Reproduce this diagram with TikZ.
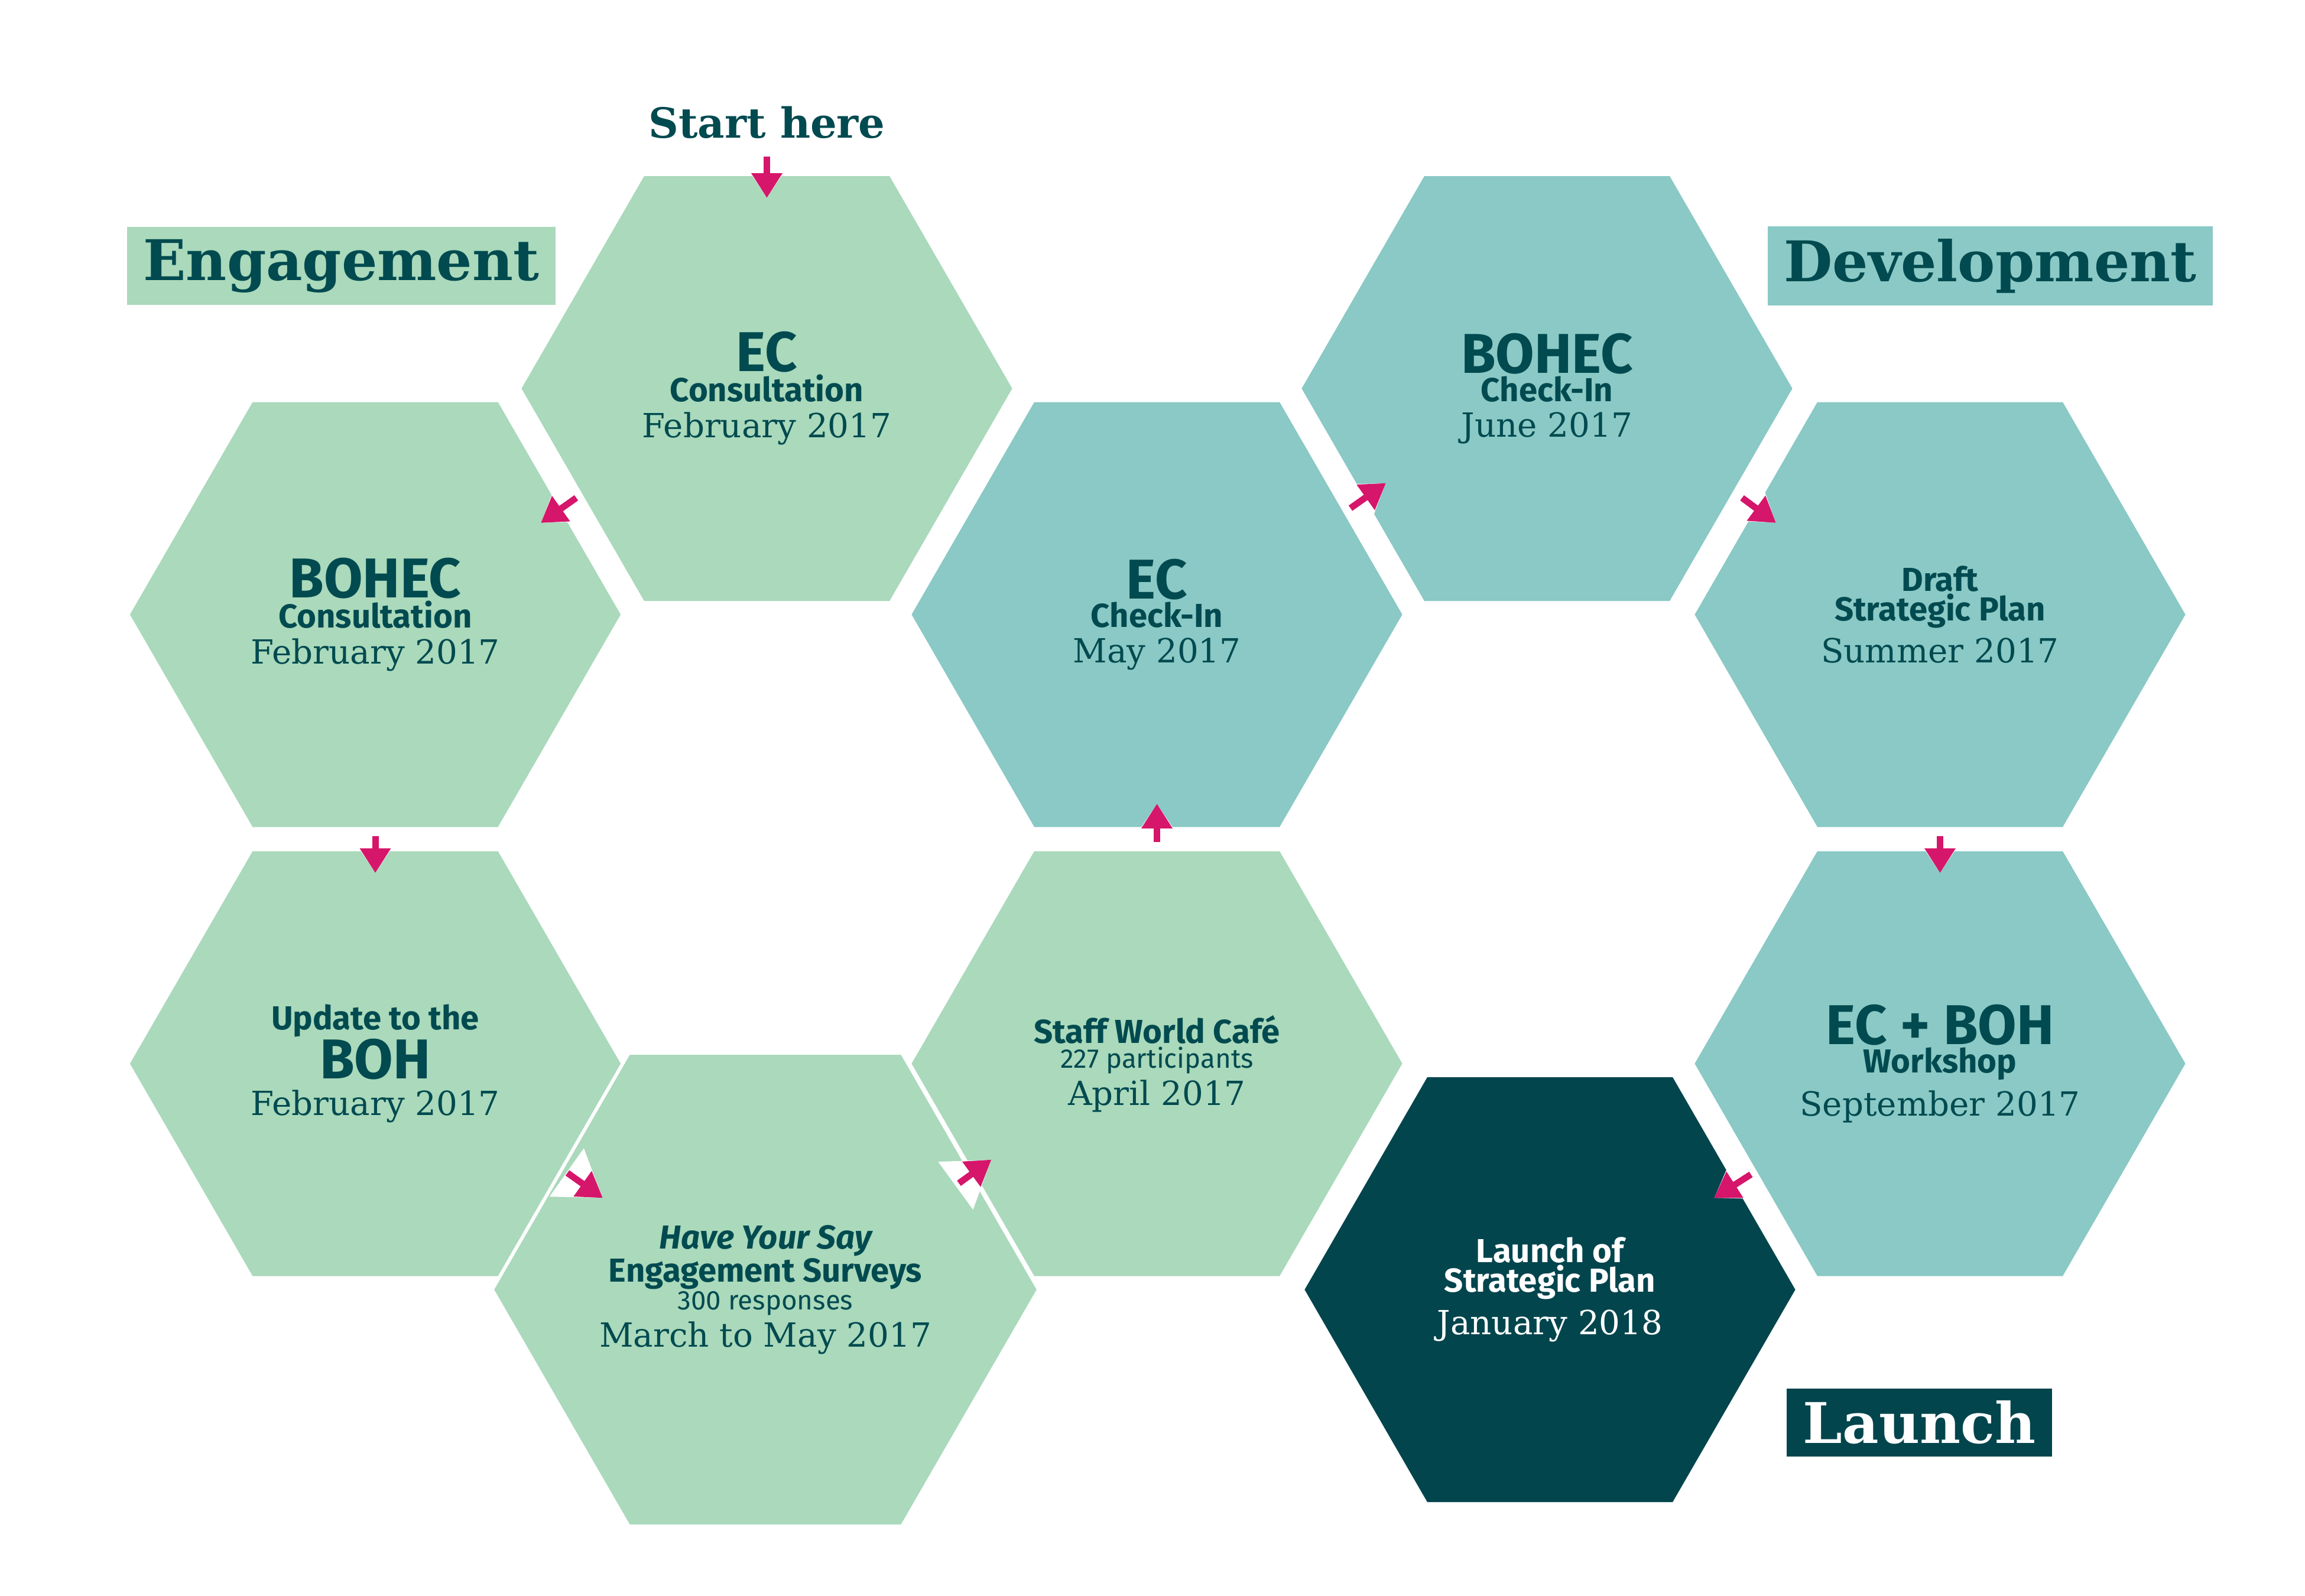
\documentclass[tikz,border=0pt]{standalone}
\usepackage{fontspec}
\setmainfont{Fira Sans}
\newfontfamily\slab{DejaVu Serif}
\usetikzlibrary{shapes.geometric,arrows.meta}
\definecolor{hexgreen}{HTML}{AAD9BB}
\definecolor{hexteal}{HTML}{8AC9C5}
\definecolor{hexdark}{HTML}{02454D}
\definecolor{inkdark}{HTML}{004A50}
\definecolor{arrowpink}{HTML}{D5166A}
\tikzset{
  hex/.style={regular polygon,regular polygon sides=6,minimum size=8.3cm,
    inner sep=0pt,outer sep=0pt,draw=none,align=center,text=inkdark},
  tagbox/.style={inner xsep=8pt,inner ysep=6pt,font=\fontsize{27}{30}\selectfont\slab\bfseries},
  flow/.style={-{Triangle[length=0.42cm,width=0.5cm]},line width=0.11cm,arrowpink},
  notch/.style={-{Triangle[length=0.75cm,width=0.95cm]},line width=0.45cm,white}
}
\newcommand{\dline}[1]{{\fontsize{16}{19}\selectfont\slab #1}}
\begin{document}
\begin{tikzpicture}[x=0.025cm,y=-0.025cm]
  \useasboundingbox (0,0) rectangle (1560,1080);
  % hexagons, engagement phase
  \node[hex,fill=hexgreen] (ecc) at (519,263)
    {{\fontsize{27}{30}\selectfont\bfseries EC}\\{\fontsize{16}{22}\selectfont\bfseries Consultation}\\[4pt]\dline{February 2017}};
  \node[hex,fill=hexgreen] (bohecc) at (254,416)
    {{\fontsize{27}{30}\selectfont\bfseries BOHEC}\\{\fontsize{16}{22}\selectfont\bfseries Consultation}\\[4pt]\dline{February 2017}};
  \node[hex,fill=hexgreen] (boh) at (254,720)
    {{\fontsize{16}{22}\selectfont\bfseries Update to the}\\{\fontsize{27}{30}\selectfont\bfseries BOH}\\[4pt]\dline{February 2017}};
  \node[hex,fill=hexgreen] (hys) at (518,873)
    {{\fontsize{16}{22}\selectfont\bfseries\itshape Have Your Say}\\{\fontsize{16}{22}\selectfont\bfseries Engagement Surveys}\\{\fontsize{13}{18}\selectfont 300 responses}\\[2pt]\dline{March to May 2017}};
  \node[hex,fill=hexgreen] (cafe) at (783,720)
    {{\fontsize{16}{22}\selectfont\bfseries Staff World Café}\\{\fontsize{13}{18}\selectfont 227 participants}\\[2pt]\dline{April 2017}};
  % hexagons, development phase
  \node[hex,fill=hexteal] (ecci) at (783,416)
    {{\fontsize{27}{30}\selectfont\bfseries EC}\\{\fontsize{16}{22}\selectfont\bfseries Check-In}\\[4pt]\dline{May 2017}};
  \node[hex,fill=hexteal] (bohecci) at (1047,263)
    {{\fontsize{27}{30}\selectfont\bfseries BOHEC}\\{\fontsize{16}{22}\selectfont\bfseries Check-In}\\[4pt]\dline{June 2017}};
  \node[hex,fill=hexteal] (draft) at (1313,416)
    {{\fontsize{16}{22}\selectfont\bfseries Draft}\\{\fontsize{16}{22}\selectfont\bfseries Strategic Plan}\\[4pt]\dline{Summer 2017}};
  \node[hex,fill=hexteal] (work) at (1313,720)
    {{\fontsize{27}{30}\selectfont\bfseries EC + BOH}\\{\fontsize{16}{22}\selectfont\bfseries Workshop}\\[4pt]\dline{September 2017}};
  % launch
  \node[hex,fill=hexdark,text=white] (launch) at (1049,873)
    {{\fontsize{16}{22}\selectfont\bfseries Launch of}\\{\fontsize{16}{22}\selectfont\bfseries Strategic Plan}\\[4pt]\dline{January 2018}};

  % phase labels
  \node[tagbox,fill=hexgreen,text=inkdark] (engage) at (231,180) {Engagement};
  \node[tagbox,fill=hexteal,text=inkdark] (develop) at (1347,180) {Development};
  \node[tagbox,fill=hexdark,text=white] (golive) at (1299,963) {Launch};
  \node[text=inkdark,font=\fontsize{20}{24}\selectfont\slab\bfseries] (start) at (519,83) {Start here};

  % arrows with white notches
  \foreach \xa/\ya/\xb/\yb in {519/106/519/134, 390/337/366/354, 254/566/254/591,
      384/794/408/811, 649/801/671/785, 783/570/783/544, 914/344/938/327,
      1179/337/1202/354, 1313/566/1313/591, 1185/795/1160/811} {
    \draw[notch] (\xa,\ya) -- (\xb,\yb);
    \draw[flow] (\xa,\ya) -- (\xb,\yb);
  }
\end{tikzpicture}
\end{document}
